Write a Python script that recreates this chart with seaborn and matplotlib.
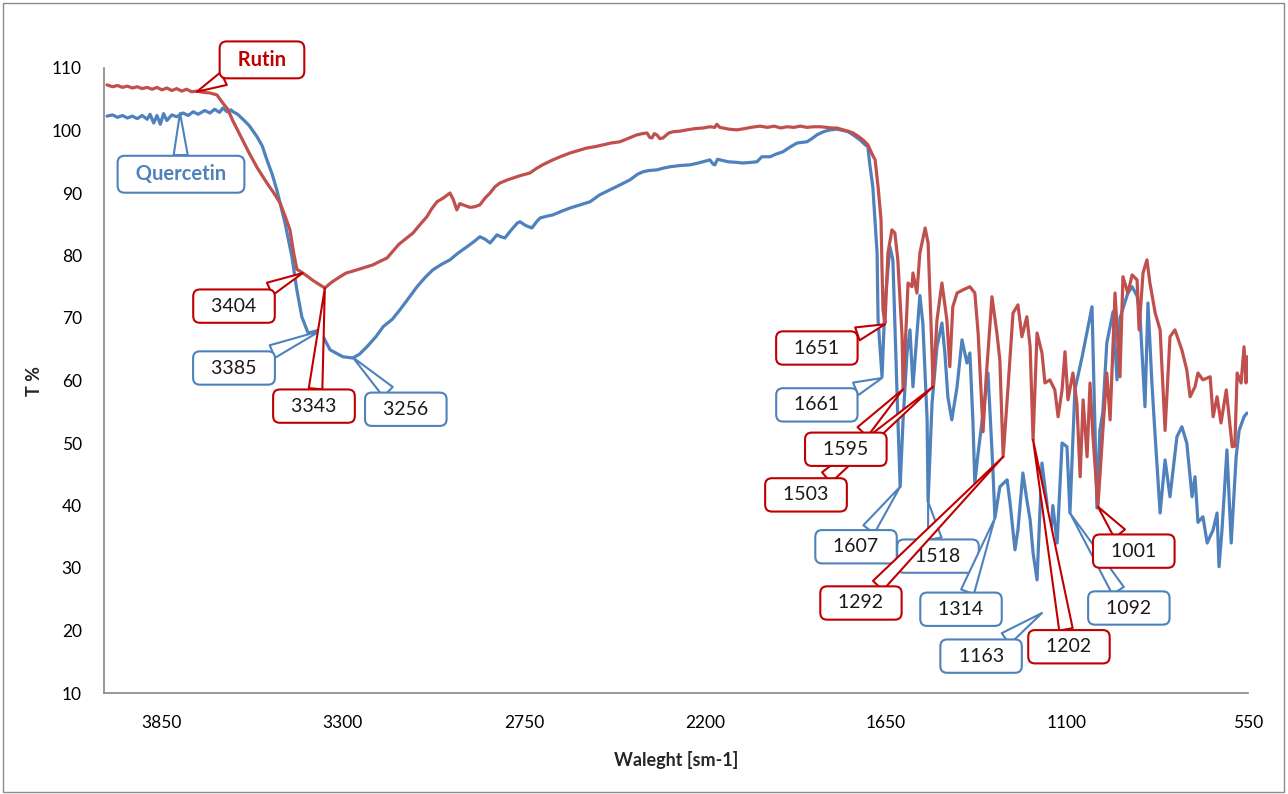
import matplotlib
matplotlib.use("Agg")
import matplotlib.pyplot as plt
import seaborn as sns
from matplotlib.patches import Rectangle

# ---- data ----
rutin_wn = [4017, 4000, 3985, 3970, 3955, 3940, 3925, 3910, 3895, 3880, 3865, 3850, 3835, 3820, 3805,
            3790, 3775, 3760, 3744, 3725, 3704, 3683, 3665, 3650, 3634, 3610, 3583, 3560, 3531, 3510,
            3491, 3475, 3461, 3450, 3440, 3422, 3406, 3391, 3370, 3355, 3335, 3309, 3290, 3270, 3240,
            3209, 3190, 3166, 3130, 3087, 3065, 3045, 3030, 3014, 2995, 2975, 2965, 2954, 2945, 2935,
            2914, 2900, 2884, 2868, 2853, 2838, 2823, 2800, 2783, 2760, 2732, 2710, 2690, 2662, 2635,
            2610, 2585, 2559, 2535, 2510, 2485, 2458, 2430, 2407, 2390, 2376, 2368, 2361, 2354, 2346,
            2337, 2328, 2310, 2297, 2275, 2255, 2230, 2206, 2185, 2170, 2164, 2155, 2145, 2125, 2103,
            2080, 2060, 2033, 2010, 1990, 1970, 1951, 1930, 1910, 1890, 1870, 1850, 1830, 1815, 1799,
            1780, 1765, 1750, 1735, 1720, 1705, 1690, 1683, 1674, 1665, 1662, 1659, 1653, 1644, 1632,
            1623, 1614, 1601, 1598, 1586, 1583, 1571, 1568, 1556, 1547, 1531, 1522, 1510, 1507, 1495,
            1480, 1465, 1456, 1447, 1434, 1416, 1395, 1380, 1370, 1358, 1355, 1346, 1328, 1313, 1304,
            1294, 1279, 1264, 1249, 1237, 1222, 1212, 1203, 1191, 1176, 1167, 1152, 1137, 1127, 1115,
            1106, 1097, 1082, 1070, 1060, 1051, 1039, 1030, 1021, 1006, 991, 979, 969, 954, 939,
            930, 915, 902, 887, 881, 869, 857, 848, 832, 817, 802, 787, 772, 751, 736,
            726, 711, 702, 687, 665, 656, 644, 632, 616, 598, 590, 583, 571, 562, 556, 553]
rutin_t = [107.3, 107.0, 107.2, 106.9, 107.1, 106.8, 107.0, 106.7, 106.9, 106.6, 106.9, 106.5, 106.8, 106.4, 106.7,
           106.3, 106.6, 106.2, 106.3, 106.1, 106.0, 105.7, 104.4, 103.4, 101.5, 99.0, 96.2, 94.0, 91.6, 90.0,
           88.4, 86.2, 84.1, 80.5, 77.8, 77.2, 76.6, 76.0, 75.3, 74.8, 75.7, 76.6, 77.2, 77.5, 78.0,
           78.5, 79.0, 79.6, 81.8, 83.6, 85.0, 86.2, 87.5, 88.6, 89.2, 90.0, 89.0, 87.3, 88.3, 88.1,
           87.7, 87.8, 88.1, 89.2, 90.0, 91.0, 91.6, 92.1, 92.4, 92.8, 93.2, 94.0, 94.6, 95.3, 95.9,
           96.4, 96.8, 97.2, 97.4, 97.7, 98.0, 98.2, 98.8, 99.3, 99.5, 99.6, 98.9, 98.8, 99.5, 99.3,
           98.7, 98.8, 99.6, 99.8, 99.9, 100.1, 100.3, 100.4, 100.6, 100.5, 101.0, 100.5, 100.4, 100.2, 100.1,
           100.3, 100.5, 100.7, 100.5, 100.7, 100.4, 100.6, 100.5, 100.7, 100.5, 100.6, 100.6, 100.5, 100.4, 100.4,
           100.1, 99.9, 99.6, 99.1, 98.5, 97.7, 96.0, 95.3, 91.0, 85.7, 77.7, 71.3, 69.2, 80.4, 84.1,
           83.6, 79.3, 67.0, 58.5, 71.8, 75.6, 75.0, 77.2, 74.0, 80.4, 84.4, 82.0, 64.4, 59.0, 69.7,
           75.6, 69.7, 62.2, 71.8, 74.0, 74.5, 75.0, 74.0, 67.6, 54.8, 51.8, 60.1, 73.4, 67.6, 63.3,
           47.8, 59.0, 70.8, 72.1, 67.0, 70.2, 65.4, 50.5, 67.6, 64.4, 59.6, 60.1, 58.5, 54.2, 58.5,
           64.6, 56.9, 61.2, 56.4, 44.6, 56.9, 47.8, 59.6, 51.0, 39.8, 52.0, 61.2, 53.7, 74.0, 60.6,
           76.6, 74.0, 76.9, 76.1, 68.1, 77.2, 79.3, 75.6, 70.8, 68.1, 52.0, 67.0, 68.1, 64.9, 61.7,
           57.4, 59.0, 61.2, 60.1, 60.6, 54.2, 57.4, 53.2, 58.5, 49.4, 49.5, 61.2, 59.6, 65.4, 59.6, 63.8]

quer_wn = [4017, 4000, 3985, 3970, 3955, 3940, 3925, 3910, 3895, 3886, 3875, 3865, 3855, 3845, 3835,
           3820, 3805, 3786, 3770, 3755, 3740, 3720, 3704, 3690, 3675, 3665, 3652, 3640, 3634, 3620,
           3604, 3585, 3561, 3545, 3531, 3515, 3501, 3476, 3455, 3440, 3425, 3406, 3390, 3370, 3355,
           3339, 3300, 3270, 3250, 3227, 3200, 3178, 3150, 3127, 3100, 3075, 3050, 3027, 3000, 2975,
           2950, 2923, 2900, 2884, 2868, 2853, 2840, 2832, 2820, 2808, 2790, 2770, 2762, 2745, 2726,
           2710, 2701, 2680, 2662, 2635, 2610, 2580, 2549, 2520, 2489, 2458, 2428, 2405, 2388, 2370,
           2346, 2325, 2306, 2275, 2246, 2220, 2185, 2175, 2170, 2162, 2154, 2130, 2103, 2085, 2060,
           2042, 2027, 2010, 2002, 1985, 1963, 1940, 1920, 1905, 1890, 1875, 1860, 1840, 1820, 1799,
           1780, 1765, 1750, 1729, 1715, 1705, 1699, 1690, 1677, 1674, 1662, 1653, 1638, 1629, 1617,
           1607, 1598, 1586, 1577, 1568, 1556, 1547, 1538, 1525, 1522, 1510, 1495, 1480, 1471, 1462,
           1450, 1434, 1419, 1404, 1395, 1386, 1380, 1370, 1349, 1340, 1325, 1319, 1304, 1282, 1273,
           1258, 1249, 1234, 1222, 1212, 1203, 1191, 1176, 1161, 1152, 1143, 1130, 1115, 1100, 1091,
           1076, 1054, 1024, 1009, 1000, 991, 979, 960, 948, 939, 915, 902, 887, 878, 863,
           854, 842, 832, 817, 802, 787, 766, 751, 736, 720, 711, 702, 687, 674, 656,
           644, 638, 629, 614, 601, 586, 577, 562, 553]
quer_t = [102.3, 102.5, 102.1, 102.4, 102.0, 102.3, 101.9, 102.4, 101.8, 102.6, 101.2, 102.4, 101.0, 102.7, 101.6,
          102.5, 102.2, 102.8, 102.4, 103.0, 102.6, 103.2, 102.8, 103.4, 102.9, 103.6, 103.0, 103.3, 103.0, 102.6,
          101.8, 100.8, 99.0, 97.5, 95.3, 93.0, 90.5, 85.2, 79.8, 74.5, 70.2, 67.6, 67.8, 68.1, 66.5,
          64.9, 63.8, 63.6, 64.2, 65.4, 67.0, 68.6, 69.8, 71.3, 73.2, 75.0, 76.5, 77.7, 78.6, 79.3,
          80.4, 81.4, 82.3, 83.0, 82.6, 82.0, 82.8, 83.3, 83.0, 82.8, 84.0, 85.2, 85.4, 84.8, 84.4,
          85.5, 86.0, 86.3, 86.5, 87.1, 87.6, 88.1, 88.6, 89.7, 90.5, 91.3, 92.1, 93.0, 93.4, 93.6,
          93.7, 94.0, 94.2, 94.4, 94.5, 94.8, 95.3, 94.6, 94.5, 95.4, 95.3, 95.0, 94.9, 94.8, 94.9,
          95.0, 95.8, 95.8, 95.8, 96.2, 96.6, 97.4, 98.0, 98.1, 98.2, 98.7, 99.3, 99.8, 100.1, 100.2,
          100.0, 99.8, 99.3, 98.5, 97.8, 97.4, 94.5, 91.0, 80.4, 69.7, 60.6, 72.4, 81.4, 79.3, 59.0,
          43.0, 53.7, 64.4, 68.1, 59.0, 67.4, 73.6, 69.2, 53.7, 40.6, 56.4, 65.4, 69.2, 64.4, 57.4,
          53.7, 59.0, 66.5, 62.8, 64.4, 53.7, 43.6, 48.4, 57.4, 61.2, 45.7, 38.0, 43.0, 44.1, 40.4,
          32.9, 36.1, 45.2, 40.9, 37.7, 32.4, 28.1, 46.8, 40.4, 33.0, 40.0, 34.0, 50.0, 49.4, 38.8,
          58.5, 63.8, 71.8, 39.6, 52.0, 55.0, 66.0, 71.0, 60.1, 70.0, 74.0, 75.0, 73.5, 70.2, 55.8,
          72.4, 59.6, 51.0, 38.8, 47.3, 41.4, 51.0, 52.6, 50.0, 41.4, 44.6, 37.3, 38.2, 34.0, 36.1,
          38.8, 30.2, 36.1, 48.9, 34.0, 47.8, 52.0, 54.2, 54.8]

# callout labels and the points they mark (wavenumber, T %)
label_text = ["Rutin", "Quercetin", "3404", "3385", "3343", "3256", "1651", "1661", "1503", "1595",
              "1607", "1518", "1314", "1292", "1163", "1202", "1092", "1001"]
label_series = ["r", "q", "r", "q", "r", "q", "r", "q", "r", "r",
                "q", "q", "q", "r", "q", "r", "q", "r"]
label_tip_wn = [3744, 3795, 3422, 3370, 3355, 3270, 1653, 1662, 1507, 1598,
                1607, 1522, 1319, 1294, 1176, 1203, 1091, 1006]
label_tip_t = [106.2, 102.8, 77.2, 67.9, 74.8, 63.7, 69.0, 60.4, 59.0, 58.6,
               43.0, 40.6, 38.0, 47.8, 22.8, 50.5, 38.8, 39.8]

# layout: where each callout box sits (wavenumber, T %)
box_wn = [3546, 3792, 3631, 3631, 3388, 3109, 1860, 1860, 1893, 1772,
          1741, 1492, 1422, 1726, 1361, 1094, 912, 897]
box_t = [111.3, 93.0, 71.9, 62.0, 55.9, 55.4, 65.2, 56.1, 41.7, 49.0,
         33.4, 31.9, 23.4, 24.4, 15.9, 17.4, 23.6, 32.7]

RED_LINE = "#C0504D"
BLUE_LINE = "#4F81BD"
RED_BOX = "#C00000"
BLUE_BOX = "#4F81BD"

sns.set_style("white")
plt.rcParams["font.family"] = ["Lato", "DejaVu Sans"]

fig = plt.figure(figsize=(12.88, 7.94), dpi=100)
ax = fig.add_axes([104 / 1288, 1 - 693 / 794, (1248 - 104) / 1288, (693 - 68) / 794])

sns.lineplot(x=quer_wn, y=quer_t, color=BLUE_LINE, lw=2.3, sort=False, estimator=None, ax=ax)
sns.lineplot(x=rutin_wn, y=rutin_t, color=RED_LINE, lw=2.3, sort=False, estimator=None, ax=ax)

ax.set_xlim(4026, 550)
ax.set_ylim(10, 110)
ax.set_xticks([3850, 3300, 2750, 2200, 1650, 1100, 550])
ax.set_yticks(range(10, 111, 10))
ax.tick_params(axis="both", direction="out", length=6, width=1, color="#868686",
               labelsize=12.5, labelcolor="black", pad=10)
for side in ["top", "right"]:
    ax.spines[side].set_visible(False)
for side in ["left", "bottom"]:
    ax.spines[side].set_color("#868686")
    ax.spines[side].set_linewidth(1.2)

ax.set_xlabel("Waleght [sm-1]", fontsize=13, fontweight="bold", labelpad=14)
ax.set_ylabel("T %", fontsize=13, fontweight="bold", labelpad=6)

for i, txt in enumerate(label_text):
    c = RED_BOX if label_series[i] == "r" else BLUE_BOX
    is_name = txt in ("Rutin", "Quercetin")
    ax.annotate(
        f"  {txt}  " if is_name else f"  {txt}  ",
        xy=(label_tip_wn[i], label_tip_t[i]),
        xytext=(box_wn[i], box_t[i]),
        ha="center", va="center",
        fontsize=14.5 if is_name else 14,
        fontweight="bold" if is_name else "normal",
        color=c if is_name else "#1a1a1a",
        annotation_clip=False,
        bbox=dict(boxstyle="round,pad=0.42,rounding_size=0.35", fc="white", ec=c, lw=1.5),
        arrowprops=dict(arrowstyle="wedge,tail_width=0.7,shrink_factor=0.5",
                        fc="white", ec=c, lw=1.5, shrinkA=0, shrinkB=0),
        zorder=5,
    )

fig.add_artist(Rectangle((0.002, 0.003), 0.995, 0.993, transform=fig.transFigure,
                         fill=False, ec="#8c8c8c", lw=1))

fig.savefig("out.png", dpi=100)
